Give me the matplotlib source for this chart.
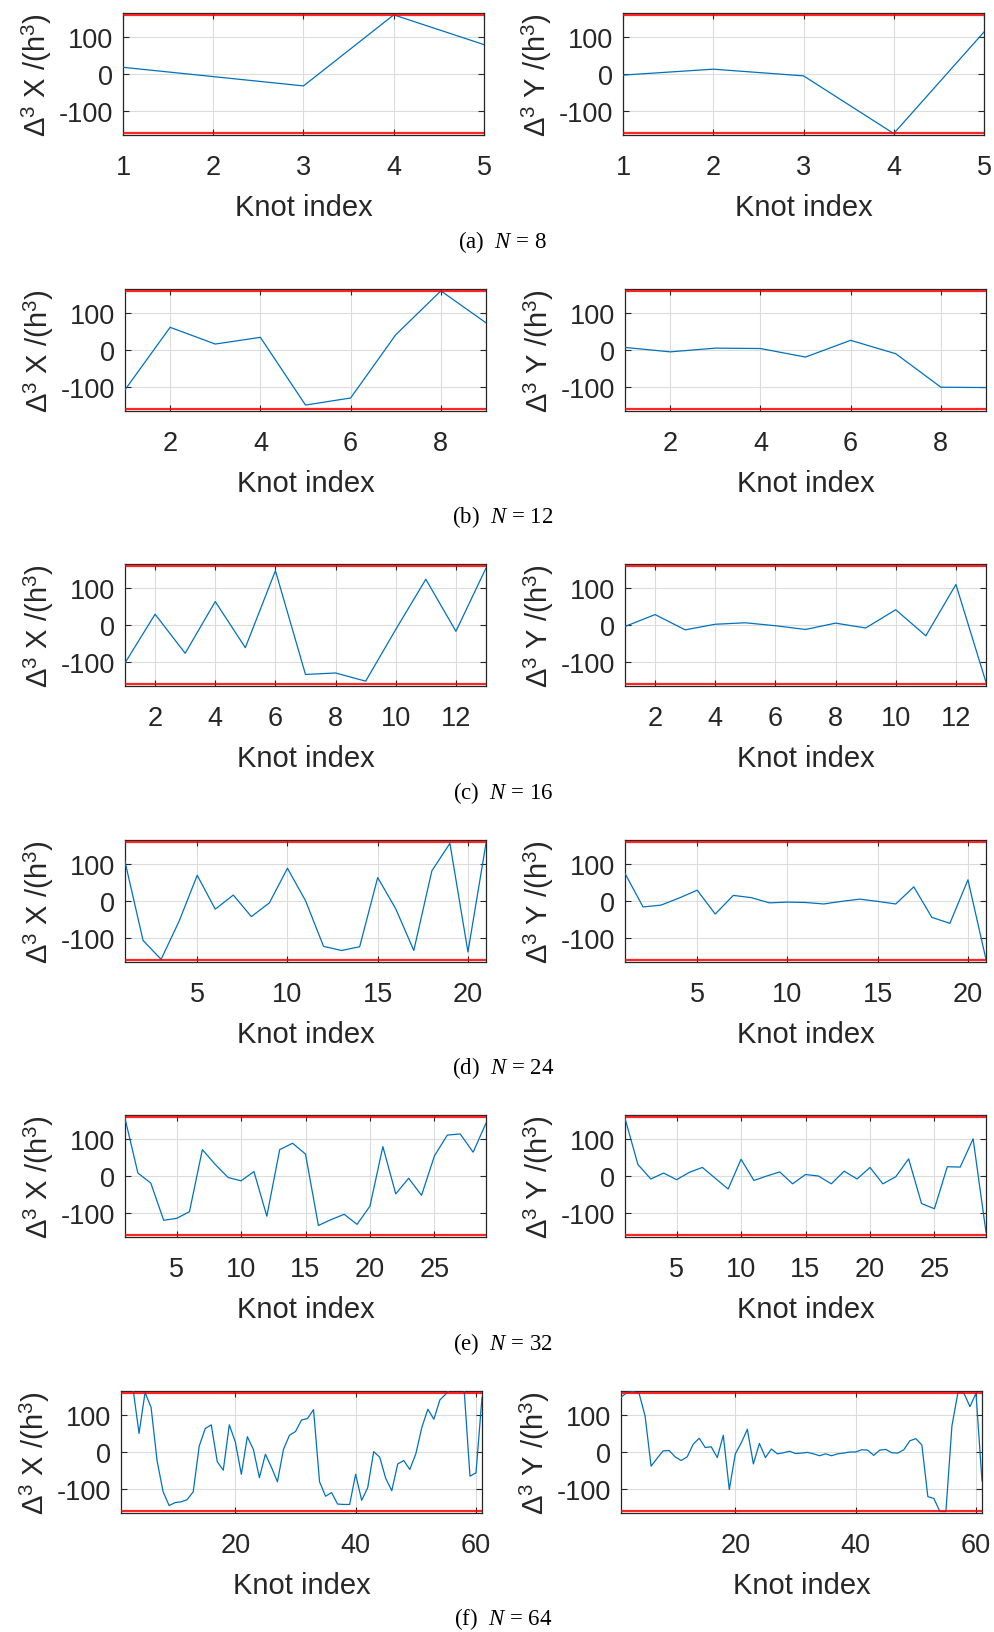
import numpy as np
import matplotlib
matplotlib.use("Agg")
from matplotlib import pyplot as plt

plt.rcParams["font.family"] = ["Liberation Sans", "DejaVu Sans"]
plt.rcParams["mathtext.fontset"] = "custom"
plt.rcParams["mathtext.rm"] = "Liberation Sans"
plt.rcParams["mathtext.it"] = "Liberation Serif:italic"

# third differences of the knots
x_n8 = [18, -7, -32, 159, 79]
y_n8 = [-3, 13, -5, -160, 113]

x_n12 = [-107, 61, 16, 34, -148, -129, 41, 159, 73]
y_n12 = [7, -5, 5, 4, -19, 26, -10, -100, -101]

x_n16 = [-102, 29, -76, 63, -61, 146, -133, -129, -151, -12, 123, -17, 153]
y_n16 = [-4, 28, -13, 2, 6, -2, -12, 5, -8, 41, -29, 109, -154]

x_n24 = [106, -106, -157, -54, 69, -22, 16, -42, -5, 88, 1, -122, -133,
         -123, 63, -21, -133, 81, 155, -137, 155]
y_n24 = [74, -16, -11, 8, 29, -35, 15, 9, -5, -3, -4, -8, -1, 5, -1, -8,
         38, -44, -60, 57, -157]

x_n32 = [155, 8, -19, -119, -114, -96, 71, 31, -4, -13, 12, -108, 71, 88,
         59, -133, -117, -103, -130, -81, 79, -48, -6, -52, 54, 110, 113, 64,
         142]
y_n32 = [155, 31, -8, 8, -10, 10, 23, -6, -35, 45, -12, 0, 11, -21, 4, 0,
         -21, 13, -8, 23, -21, -2, 46, -74, -88, 25, 24, 100, -151]

x_n64 = [175, 175, 170, 50, 160, 120, -24, -107, -144, -136, -134, -128,
         -107, 16, 63, 73, -26, -49, 73, 27, -60, 41, 7, -69, -6, -41, -80, 7,
         45, 55, 86, 90, 114, -80, -119, -109, -140, -141, -141, -60, -130,
         -96, 1, -14, -71, -104, -32, -23, -47, -5, 66, 115, 88, 140, 156, 175,
         175, 175, -65, -56, 147]
y_n64 = [147, 160, 162, 158, 97, -38, -17, 3, 4, -13, -23, -13, 21, 37, 12,
         14, -15, 45, -101, -5, 25, 61, -32, 23, -15, 8, -5, -2, 2, -4, -3,
         -1, -5, -10, -5, -10, -5, -3, 0, 0, 6, 5, -9, 5, 7, -2, -3, 6, 30, 36,
         19, -120, -125, -160, -160, 70, 160, 158, 122, 158, -78]

rows = [
    ("(a)", 8, x_n8, y_n8, [1, 2, 3, 4, 5]),
    ("(b)", 12, x_n12, y_n12, [2, 4, 6, 8]),
    ("(c)", 16, x_n16, y_n16, [2, 4, 6, 8, 10, 12]),
    ("(d)", 24, x_n24, y_n24, [5, 10, 15, 20]),
    ("(e)", 32, x_n32, y_n32, [5, 10, 15, 20, 25]),
    ("(f)", 64, x_n64, y_n64, [20, 40, 60]),
]
LIMIT = 159
YLIM = 164

W, H = 994, 1633
row_tops = [14, 290, 565, 841, 1116, 1392]
row_lefts = [123, 125, 125, 125, 125, 121]
ax_w, ax_h = 361, 122
captions_y = [242, 517, 793, 1068, 1344, 1619]

fig = plt.figure(figsize=(W / 100, H / 100), dpi=100)
dark = "#262626"
blue = "#0072BD"

for r, (tag, n, dx, dy, xt) in enumerate(rows):
    for c, (vals, name) in enumerate([(dx, "X"), (dy, "Y")]):
        left = row_lefts[r] + c * 500
        ax = fig.add_axes([left / W, 1 - (row_tops[r] + ax_h) / H, ax_w / W, ax_h / H])
        k = np.arange(1, len(vals) + 1)
        ax.plot(k, vals, color=blue, lw=0.9, zorder=3)
        ax.axhline(LIMIT, color="red", lw=1.6, alpha=0.85, zorder=4)
        ax.axhline(-LIMIT, color="red", lw=1.6, alpha=0.85, zorder=4)
        ax.set_xlim(1, len(vals))
        ax.set_ylim(-YLIM, YLIM)
        ax.set_xticks(xt)
        ax.set_yticks([-100, 0, 100])
        ax.set_yticklabels(["-100", "0", "100"])
        ax.grid(True, color="#dcdcdc", lw=0.8)
        ax.set_axisbelow(True)
        ax.tick_params(direction="in", length=4, width=0.8, colors=dark,
                       labelsize=19.5, top=True, right=True)
        ax.tick_params(axis="x", pad=13.5)
        ax.tick_params(axis="y", pad=7)
        for s in ax.spines.values():
            s.set_color(dark)
            s.set_linewidth(0.9)
        ax.set_xlabel("Knot index", fontsize=21, color=dark, labelpad=9.5)
        ax.set_ylabel(r"$\Delta^{3}$ " + name + r" /(h$^{3}$)", fontsize=21,
                      color=dark, labelpad=3.5)
    fig.text(503 / W, 1 - captions_y[r] / H, tag + r"  $N$ = " + str(n),
             ha="center", va="center", fontsize=16.5, family="Liberation Serif")

fig.savefig("out.png", dpi=100)
